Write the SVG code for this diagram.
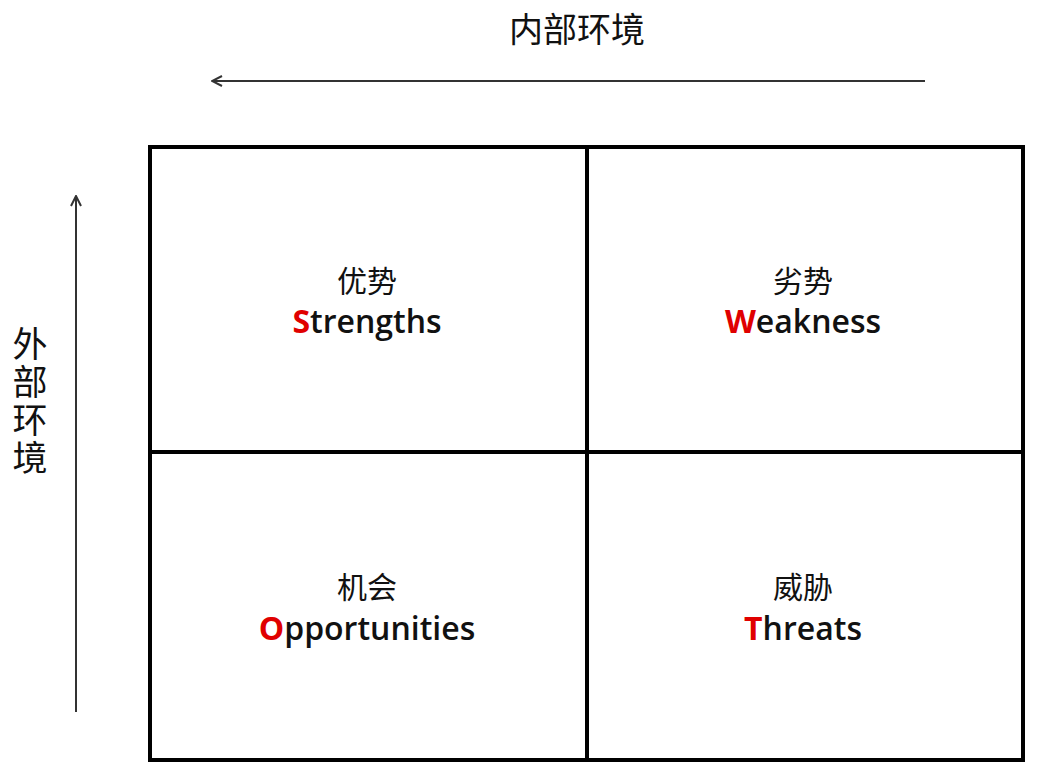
<svg xmlns="http://www.w3.org/2000/svg" width="1060" height="770" viewBox="0 0 1060 770">
<style>
.cn{font-family:"Noto Sans CJK SC","Noto Sans",sans-serif;fill:#111;text-anchor:middle}
.en{font-family:"Open Sans","Noto Sans",sans-serif;font-size:32px;font-weight:600;fill:#111;text-anchor:middle}
.r{fill:#e00000;font-weight:700}
.ax{stroke:#333;stroke-width:2;fill:none}
.grid{stroke:#000;stroke-width:4;fill:none}
</style>
<defs><marker id="a" viewBox="0 0 12 12" refX="11" refY="6" markerWidth="12" markerHeight="12" markerUnits="userSpaceOnUse" orient="auto"><path d="M1 1 L11 6 L1 11" fill="none" stroke="#333" stroke-width="2"/></marker></defs>
<rect width="1060" height="770" fill="#fff"/>
<g id="connectors">
<line class="ax" x1="925" y1="81" x2="212" y2="81" marker-end="url(#a)"/>
<line class="ax" x1="76" y1="712" x2="76" y2="196" marker-end="url(#a)"/>
</g>
<text class="cn" x="577" y="42" font-size="34">内部环境</text>
<text class="cn" x="30" y="402" font-size="35" writing-mode="vertical-rl" letter-spacing="3">外部环境</text>
<g id="grid"><rect class="grid" x="150" y="147" width="873" height="613"/><line class="grid" x1="587" y1="147" x2="587" y2="760"/><line class="grid" x1="150" y1="452" x2="1023" y2="452"/></g>
<g id="s"><text class="cn" x="367" y="292" font-size="30">优势</text><text class="en" x="367" y="333"><tspan class="r">S</tspan>trengths</text></g>
<g id="w"><text class="cn" x="803" y="292" font-size="30">劣势</text><text class="en" x="803" y="333"><tspan class="r">W</tspan>eakness</text></g>
<g id="o"><text class="cn" x="367" y="598" font-size="30">机会</text><text class="en" x="367" y="640"><tspan class="r">O</tspan>pportunities</text></g>
<g id="t"><text class="cn" x="803" y="598" font-size="30">威胁</text><text class="en" x="803" y="640"><tspan class="r">T</tspan>hreats</text></g>
</svg>
